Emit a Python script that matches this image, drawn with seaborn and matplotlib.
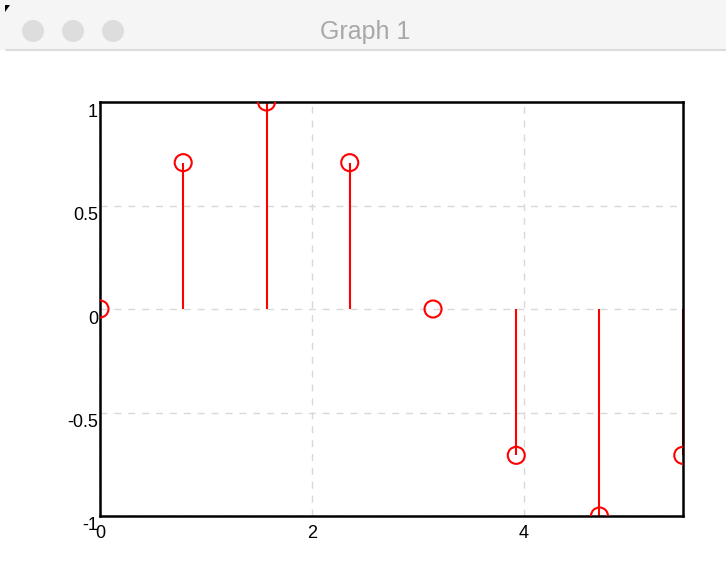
import numpy as np
import pandas as pd
import seaborn as sns
import matplotlib.pyplot as plt
import matplotlib.transforms as mtransforms
from matplotlib.patches import Circle, Rectangle, Polygon
from matplotlib.lines import Line2D
from matplotlib.ticker import MultipleLocator

# sample positions and values
x_vals = [0.0, 0.785, 1.571, 2.356, 3.142, 3.927, 4.712, 5.498]
y_vals = [0.0, 0.707, 1.0, 0.707, 0.0, -0.707, -1.0, -0.707]
x_ticks = [0, 2, 4]
y_ticks = [-1, -0.5, 0, 0.5, 1]
y_tick_labels = ['-1', '-0.5', '0', '0.5', '1']

df = pd.DataFrame({'x': x_vals, 'y': y_vals})

sns.set_style("white")
plt.rcParams['font.family'] = ['Liberation Sans', 'DejaVu Sans']

fig = plt.figure(figsize=(7.26, 5.65), dpi=100)

# window title bar
fig.patches.append(Rectangle((0, 1 - 50 / 565), 1, 50 / 565, transform=fig.transFigure,
                             facecolor='#f5f5f5', edgecolor='none'))
fig.lines.append(Line2D([0.008, 1], [1 - 50 / 565] * 2, transform=fig.transFigure,
                        color='#dcdcdc', lw=1.5))
fig.patches.append(Polygon([[5, 565 - 5], [10, 565 - 5], [5, 565 - 12]], transform=None,
                           facecolor='black', edgecolor='none'))
for cx in [33, 73, 113]:
    fig.patches.append(Circle((cx, 565 - 31), 11, transform=None,
                              facecolor='#dddddd', edgecolor='none'))
fig.text(365 / 726, 1 - 32 / 565, 'Graph 1', ha='center', va='center',
         fontsize=18, color='#a8a8a8')

ax = fig.add_axes([100 / 726, 49 / 565, 583 / 726, 414 / 565])

ax.vlines(df['x'], 0, df['y'], color='red', lw=1.5, zorder=2)
sns.scatterplot(data=df, x='x', y='y', ax=ax, s=150, marker='o',
                facecolors='none', edgecolor='red', linewidth=1.5, zorder=3)

ax.set_xlim(0, 5.5)
ax.set_ylim(-1, 1)
ax.set_xticks(x_ticks)
ax.set_yticks(y_ticks)
ax.set_yticklabels(y_tick_labels)
ax.xaxis.set_minor_locator(MultipleLocator(0.5))
ax.yaxis.set_minor_locator(MultipleLocator(0.2))
ax.tick_params(which='major', direction='inout', length=5, width=1.2,
               labelsize=13, colors='black')
ax.tick_params(which='minor', direction='in', length=3, width=1, color='black')
ax.tick_params(axis='y', pad=-1)
ax.tick_params(axis='x', pad=4)
ax.grid(True, which='major', linestyle=(0, (5, 5)), color='#d8d8d8', lw=1)
ax.set_xlabel('')
ax.set_ylabel('')
for s in ax.spines.values():
    s.set_color('black')
    s.set_linewidth(1.8)

# y labels sit a little below their ticks
shift = mtransforms.ScaledTranslation(0, -8 / 100, fig.dpi_scale_trans)
for lab in ax.get_yticklabels():
    lab.set_transform(lab.get_transform() + shift)

fig.savefig('out.png', dpi=100)
